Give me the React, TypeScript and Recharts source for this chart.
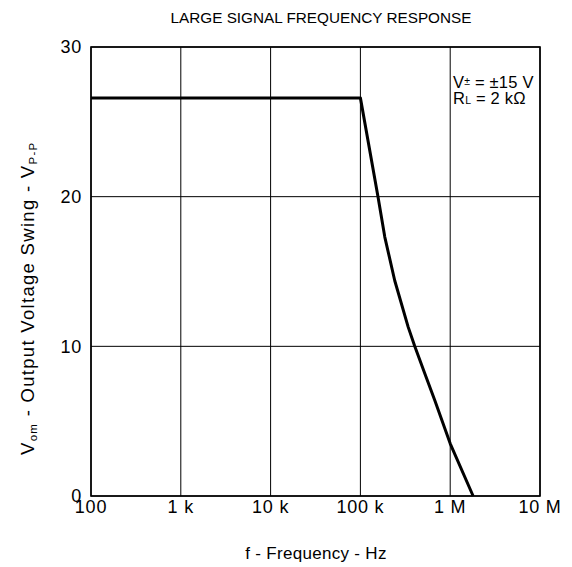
import React from 'react';
import { LineChart, Line, XAxis, YAxis, CartesianGrid, Customized } from 'recharts';

const frequencies = [100, 100000, 157000, 187000, 241000, 340000, 403000, 520000, 673000, 1000000, 1800000];
const swing = [26.6, 26.6, 20, 17.3, 14.4, 11.3, 10, 8.2, 6.4, 3.5, 0];
const xTicks = [100, 1000, 10000, 100000, 1000000, 10000000];
const xTickLabels = ['100', '1 k', '10 k', '100 k', '1 M', '10 M'];
const yTicks = [0, 10, 20, 30];

const data = frequencies.map((f, i) => ({ f, v: swing[i] }));

const W = 572;
const H = 567;
const M = { top: 47, right: 32, bottom: 0, left: 0 };
const YW = 91;
const XH = 71;
const FONT = '"Liberation Sans", Arial, Helvetica, sans-serif';

const plotLeft = M.left + YW;
const plotTop = M.top;
const plotW = W - plotLeft - M.right;
const plotH = H - M.top - M.bottom - XH;

const Extras = () => (
  <g fontFamily={FONT} fill="#000">
    <rect x={plotLeft} y={plotTop} width={plotW} height={plotH} fill="none" stroke="#000" strokeWidth={1.6} />
    <text x={321} y={23} fontSize={15.3} textAnchor="middle">LARGE SIGNAL FREQUENCY RESPONSE</text>
    <text x={316} y={559} fontSize={17} textAnchor="middle" letterSpacing={0.3}>f - Frequency - Hz</text>
    <g transform="translate(34 455) rotate(-90)">
      <text x={0} y={0} fontSize={18.5} textAnchor="start" letterSpacing={1.3}>
        V<tspan fontSize={11.5} baselineShift="-3">om</tspan> - Output Voltage Swing - V<tspan fontSize={11.5} baselineShift="-3">P-P</tspan>
      </text>
    </g>
    <text x={453} y={88} fontSize={16.5} letterSpacing={0.2}>
      V<tspan fontSize={10.5} baselineShift="3">±</tspan> = ±15 V
    </text>
    <text x={453} y={104} fontSize={16.5} letterSpacing={0.2}>
      R<tspan fontSize={10.5}>L</tspan> = 2 kΩ
    </text>
  </g>
);

export default function App() {
  return (
    <div style={{ position: 'absolute', left: 0, top: 0, width: W, height: H, background: '#fff' }}>
      <LineChart width={W} height={H} data={data} margin={M}>
        <CartesianGrid stroke="#000" strokeWidth={1} />
        <XAxis
          dataKey="f"
          type="number"
          scale="log"
          domain={[100, 10000000]}
          ticks={xTicks}
          tickFormatter={(v: number) => xTickLabels[xTicks.indexOf(v)] ?? ''}
          height={XH}
          tickLine={false}
          axisLine={false}
          tickSize={0}
          tickMargin={4}
          interval={0}
          tick={{ fill: '#000', fontSize: 18, fontFamily: FONT, letterSpacing: 0.8 }}
          allowDataOverflow
        />
        <YAxis
          type="number"
          domain={[0, 30]}
          ticks={yTicks}
          width={YW}
          tickLine={false}
          axisLine={false}
          tickSize={0}
          tickMargin={9}
          interval={0}
          tick={{ fill: '#000', fontSize: 18, fontFamily: FONT, letterSpacing: 0.8 }}
        />
        <Line
          dataKey="v"
          type="linear"
          stroke="#000"
          strokeWidth={3}
          strokeLinejoin="round"
          dot={false}
          isAnimationActive={false}
        />
        <Customized component={Extras} />
      </LineChart>
    </div>
  );
}
